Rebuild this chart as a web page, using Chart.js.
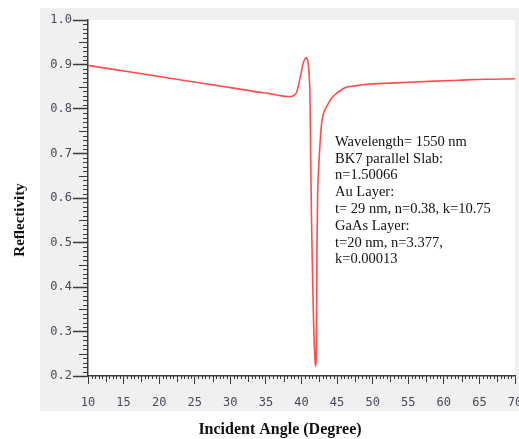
<!DOCTYPE html>
<html>
<head>
<meta charset="utf-8">
<script src="https://cdn.jsdelivr.net/npm/chart.js@4.4.1/dist/chart.umd.min.js"></script>
<style>
  html, body { margin: 0; padding: 0; background: #fff; }
  #wrap { width: 519px; height: 439px; }
</style>
</head>
<body>
<div id="wrap"><canvas id="chart" width="519" height="439"></canvas></div>
<script>
// incident angle (degree) and reflectivity
const angles = [10, 12, 14, 16, 18, 20, 22, 24, 26, 28, 30, 32, 34, 35, 36, 37, 38, 38.5,
  39, 39.3, 39.5, 39.8, 40.0, 40.2, 40.4, 40.55, 40.7, 40.85, 41.0, 41.1, 41.18, 41.25,
  41.3, 41.4, 41.5, 41.6, 41.7, 41.8, 41.9, 41.98, 42.05, 42.1, 42.13, 42.17, 42.26,
  42.45, 42.6, 42.75, 42.9, 43.2, 43.55, 43.9, 44.3, 44.7, 45.4, 46.1, 47.5, 49, 52,
  55, 58, 61, 64, 67, 70];
const reflectivity = [0.898, 0.893, 0.888, 0.883, 0.878, 0.873, 0.868, 0.863, 0.858,
  0.853, 0.848, 0.843, 0.838, 0.836, 0.833, 0.830, 0.828, 0.828,
  0.831, 0.837, 0.848, 0.870, 0.885, 0.900, 0.910, 0.914, 0.915, 0.911, 0.893, 0.870,
  0.840, 0.760, 0.680, 0.560, 0.470, 0.390, 0.320, 0.270, 0.235, 0.222, 0.235, 0.280,
  0.370, 0.480, 0.600, 0.680, 0.720, 0.755, 0.776, 0.795, 0.806, 0.816, 0.826, 0.832,
  0.841, 0.848, 0.852, 0.855, 0.858, 0.860, 0.862, 0.864, 0.866, 0.867, 0.868];
const xTicks = [10, 15, 20, 25, 30, 35, 40, 45, 50, 55, 60, 65, 70];
const yTicks = [0.2, 0.3, 0.4, 0.5, 0.6, 0.7, 0.8, 0.9, 1.0];
const noteLines = [
  'Wavelength= 1550 nm',
  'BK7 parallel Slab:',
  'n=1.50066',
  'Au Layer:',
  't= 29 nm, n=0.38, k=10.75',
  'GaAs Layer:',
  't=20 nm, n=3.377,',
  'k=0.00013'
];

const axisColor = '#3a3a3a';
const tickFont = { family: 'DejaVu Sans Mono', size: 12 };
const tickColor = '#454a58';

// gray panel behind the white plot area
const panel = {
  id: 'panel',
  beforeDraw(chart) {
    const { ctx, chartArea: a } = chart;
    ctx.save();
    ctx.fillStyle = '#fff';
    ctx.fillRect(0, 0, chart.width, chart.height);
    ctx.fillStyle = '#f0f0f0';
    ctx.fillRect(40, 8, 479, 403);
    ctx.fillStyle = '#fff';
    ctx.fillRect(a.left, a.top, a.right - a.left, a.bottom - a.top);
    ctx.restore();
  }
};

// minor ticks, axis titles and the parameter note
const extras = {
  id: 'extras',
  afterDraw(chart) {
    const { ctx, chartArea: a, scales: { x, y } } = chart;
    ctx.save();
    ctx.strokeStyle = axisColor;
    ctx.lineWidth = 1;
    ctx.beginPath();
    for (let i = 20; i <= 100; i++) {
      if (i % 10 === 0) continue;
      const len = i % 5 === 0 ? 9 : 5;
      const py = Math.round(y.getPixelForValue(i / 100)) + 0.5;
      ctx.moveTo(a.left - len, py);
      ctx.lineTo(a.left, py);
    }
    for (let i = 20; i <= 140; i++) {
      if (i % 10 === 0) continue;
      const len = i % 5 === 0 ? 6 : 3;
      const px = Math.round(x.getPixelForValue(i / 2)) + 0.5;
      ctx.moveTo(px, a.bottom);
      ctx.lineTo(px, a.bottom + len);
    }
    ctx.stroke();

    ctx.fillStyle = '#111';
    ctx.textAlign = 'center';
    ctx.textBaseline = 'middle';
    ctx.font = 'bold 16px "Liberation Serif"';
    ctx.fillText('Incident Angle (Degree)', 280, 430);
    ctx.save();
    ctx.translate(20, 220);
    ctx.rotate(-Math.PI / 2);
    ctx.font = 'bold 15px "Liberation Serif"';
    ctx.fillText('Reflectivity', 0, 0);
    ctx.restore();

    ctx.textAlign = 'left';
    ctx.font = '14.5px "Liberation Serif"';
    noteLines.forEach((t, i) => ctx.fillText(t, 335, 142 + i * 16.8));
    ctx.restore();
  }
};

new Chart(document.getElementById('chart'), {
  type: 'scatter',
  data: {
    datasets: [{
      data: angles.map((a, i) => ({ x: a, y: reflectivity[i] })),
      showLine: true,
      borderColor: '#ff4d4d',
      borderWidth: 1.6,
      pointRadius: 0,
      tension: 0,
      cubicInterpolationMode: 'monotone'
    }]
  },
  options: {
    responsive: false,
    animation: false,
    layout: { padding: { left: 0, top: 20, right: 4, bottom: 0 } },
    plugins: { legend: { display: false }, tooltip: { enabled: false } },
    scales: {
      x: {
        type: 'linear',
        min: 10,
        max: 70,
        afterFit(s) { s.height = 63; s.paddingLeft = 0; s.paddingRight = 0; },
        afterBuildTicks(s) { s.ticks = xTicks.map(v => ({ value: v })); },
        ticks: { font: tickFont, color: tickColor, padding: 12, maxRotation: 0 },
        grid: { drawOnChartArea: false, tickLength: 8, color: axisColor, tickWidth: 1 },
        border: { color: axisColor, width: 1.5 }
      },
      y: {
        min: 0.2,
        max: 1.0,
        afterFit(s) { s.width = 88; s.paddingTop = 0; s.paddingBottom = 0; },
        afterBuildTicks(s) { s.ticks = yTicks.map(v => ({ value: v })); },
        ticks: { font: tickFont, color: tickColor, padding: 1, callback: v => v.toFixed(1) },
        grid: { drawOnChartArea: false, tickLength: 15, color: axisColor, tickWidth: 1.5 },
        border: { color: axisColor, width: 1.5 }
      }
    }
  },
  plugins: [panel, extras]
});
</script>
</body>
</html>
